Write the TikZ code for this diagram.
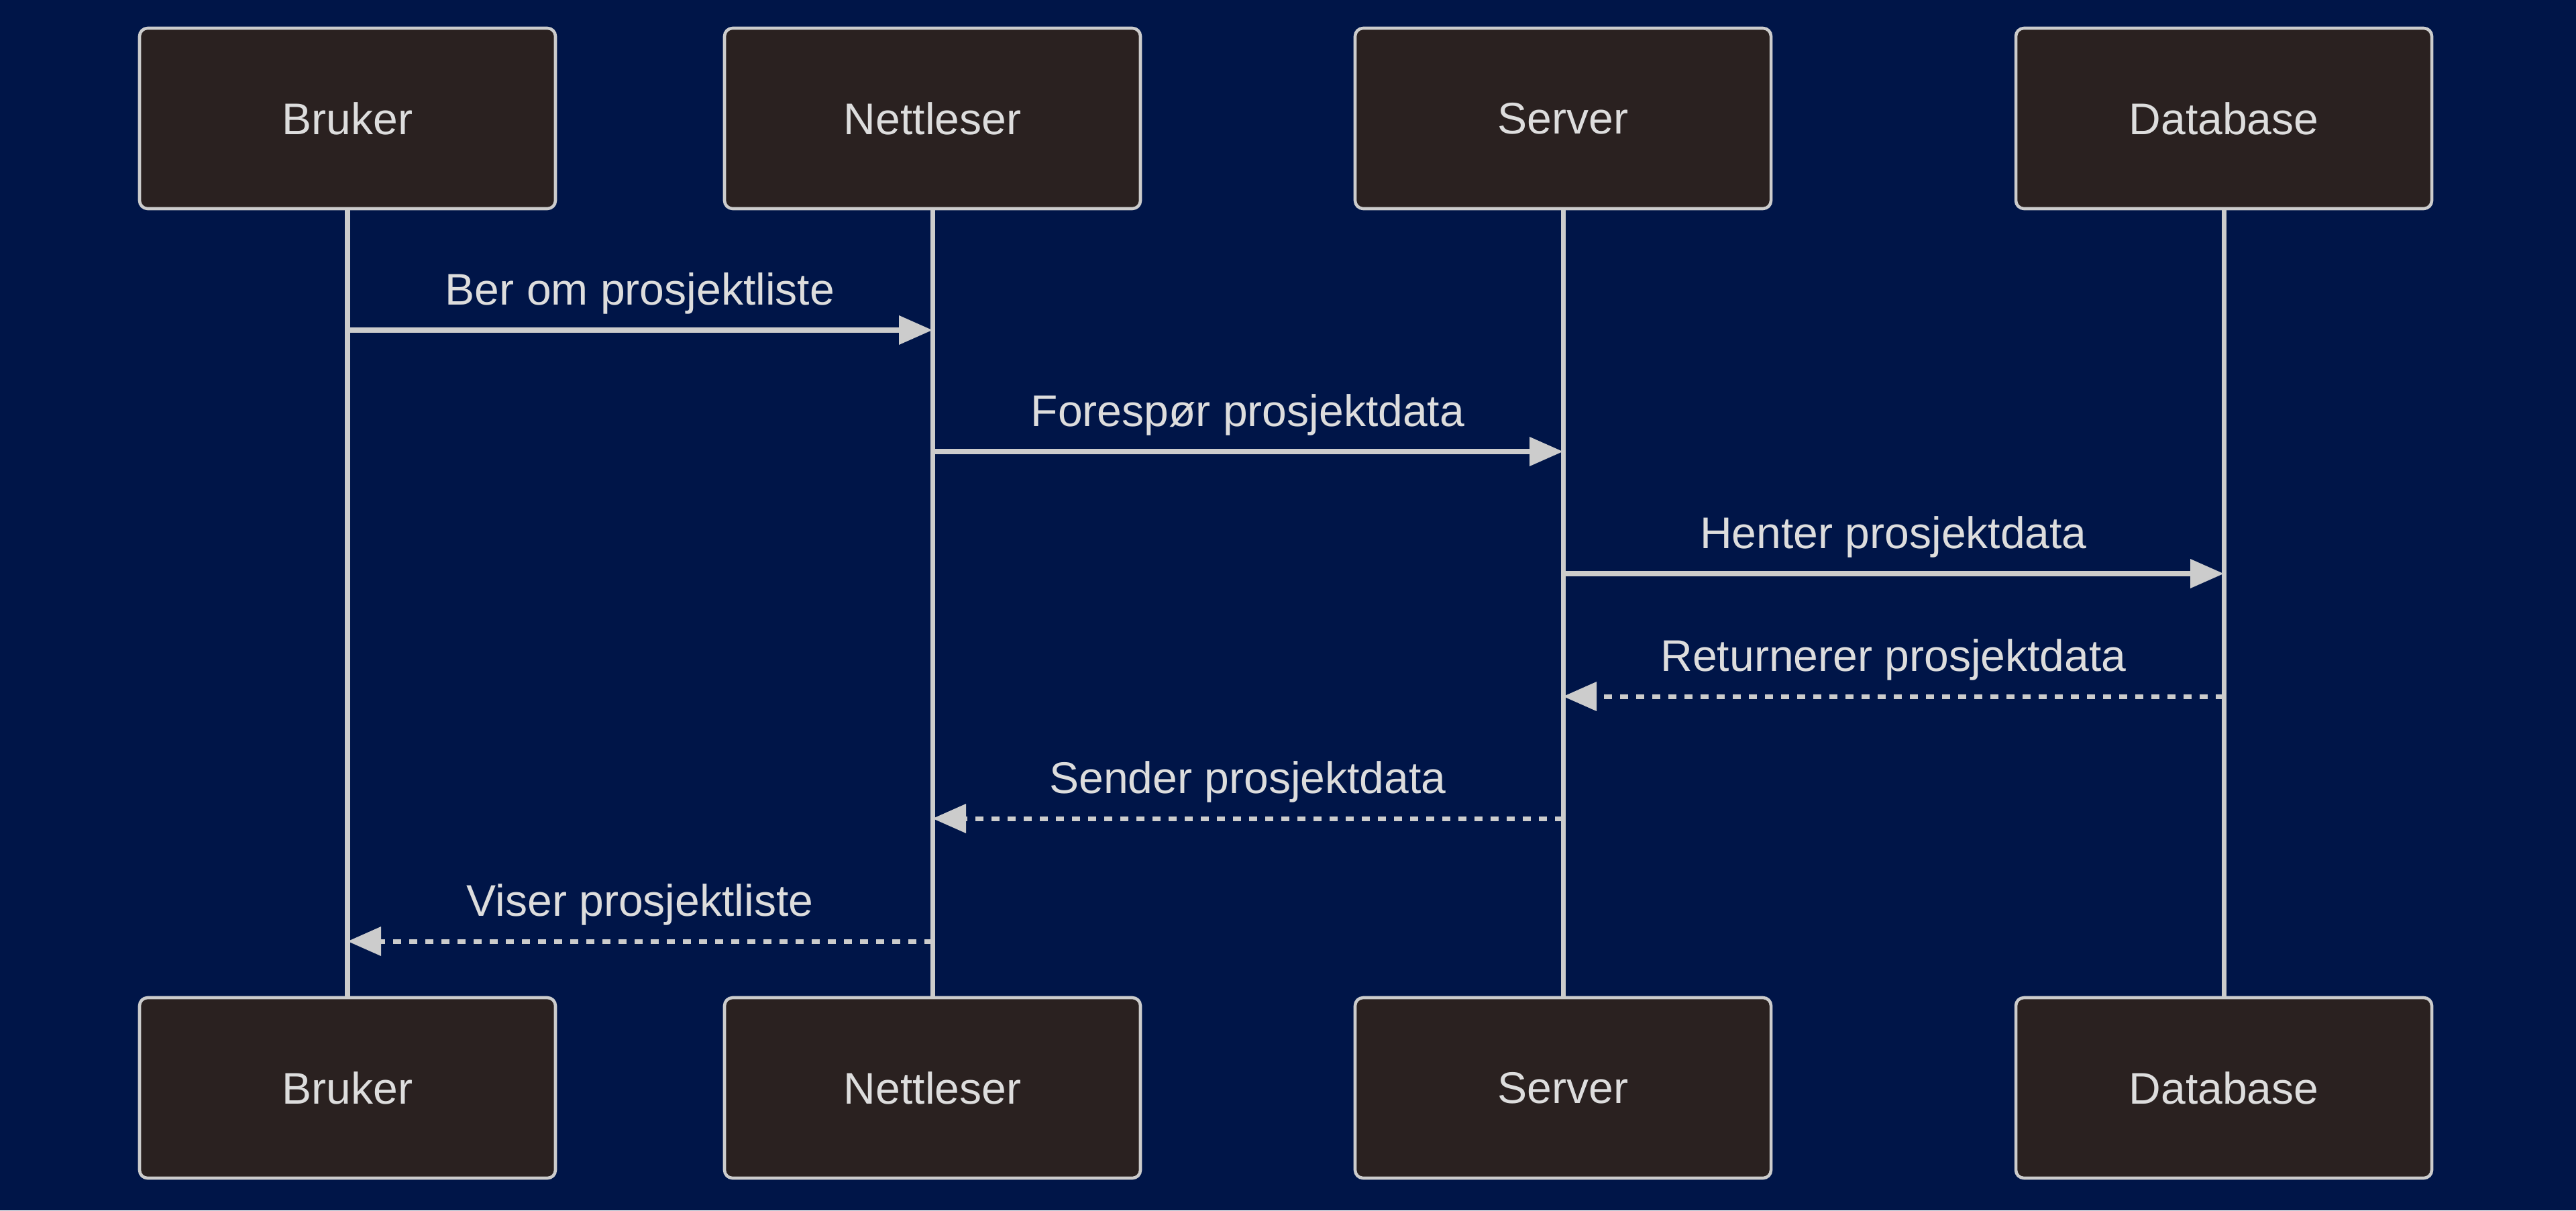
\documentclass[tikz,border=0pt]{standalone}
\usepackage{fontspec}
\setmainfont{Liberation Sans}
\usetikzlibrary{arrows.meta}

\definecolor{bgblue}{RGB}{0,21,72}
\definecolor{boxfill}{RGB}{42,33,32}
\definecolor{linegray}{RGB}{204,204,204}
\definecolor{textgray}{RGB}{221,221,221}

\tikzset{
  actor/.style={draw=linegray, line width=1.3pt, fill=boxfill, rounded corners=0.12cm,
    minimum width=6.2cm, minimum height=2.69cm, inner sep=0pt, text=textgray,
    font=\fontsize{18.8}{22}\selectfont},
  lifeline/.style={draw=linegray, line width=2pt},
  msg/.style={draw=linegray, line width=2pt, -{Triangle[length=0.5cm,width=0.42cm]}},
  reply/.style={msg, dash pattern=on 0.12cm off 0.12cm},
  msglabel/.style={text=textgray, font=\fontsize{18.8}{22}\selectfont, inner sep=0pt}
}

\begin{document}
\begin{tikzpicture}
\fill[bgblue] (0,0) rectangle (38.4,-18.04);
\useasboundingbox (0,0) rectangle (38.4,-18.04);

% actors, top row
\node[actor] (brukerTop) at (5.18,-1.765) {Bruker};
\node[actor] (nettTop) at (13.9,-1.765) {Nettleser};
\node[actor] (serverTop) at (23.3,-1.765) {Server};
\node[actor] (dbTop) at (33.15,-1.765) {Database};
% actors, bottom row
\node[actor] (brukerBot) at (5.18,-16.215) {Bruker};
\node[actor] (nettBot) at (13.9,-16.215) {Nettleser};
\node[actor] (serverBot) at (23.3,-16.215) {Server};
\node[actor] (dbBot) at (33.15,-16.215) {Database};

% lifelines
\path[lifeline] (brukerTop) -- (brukerBot);
\path[lifeline] (nettTop) -- (nettBot);
\path[lifeline] (serverTop) -- (serverBot);
\path[lifeline] (dbTop) -- (dbBot);

% message points on the lifelines
\coordinate (b1) at (5.18,-4.92);
\coordinate (n1) at (13.9,-4.92);
\coordinate (n2) at (13.9,-6.73);
\coordinate (s2) at (23.3,-6.73);
\coordinate (s3) at (23.3,-8.55);
\coordinate (d3) at (33.15,-8.55);
\coordinate (d4) at (33.15,-10.38);
\coordinate (s4) at (23.3,-10.38);
\coordinate (s5) at (23.3,-12.2);
\coordinate (n5) at (13.9,-12.2);
\coordinate (n6) at (13.9,-14.03);
\coordinate (b6) at (5.18,-14.03);

% messages
\path[msg] (b1) -- node[msglabel, above=0.2cm] (m1) {Ber om prosjektliste} (n1);
\path[msg] (n2) -- node[msglabel, above=0.2cm] (m2) {Forespør prosjektdata} (s2);
\path[msg] (s3) -- node[msglabel, above=0.2cm] (m3) {Henter prosjektdata} (d3);
\path[reply] (d4) -- node[msglabel, above=0.2cm] (m4) {Returnerer prosjektdata} (s4);
\path[reply] (s5) -- node[msglabel, above=0.2cm] (m5) {Sender prosjektdata} (n5);
\path[reply] (n6) -- node[msglabel, above=0.2cm] (m6) {Viser prosjektliste} (b6);
\end{tikzpicture}
\end{document}
